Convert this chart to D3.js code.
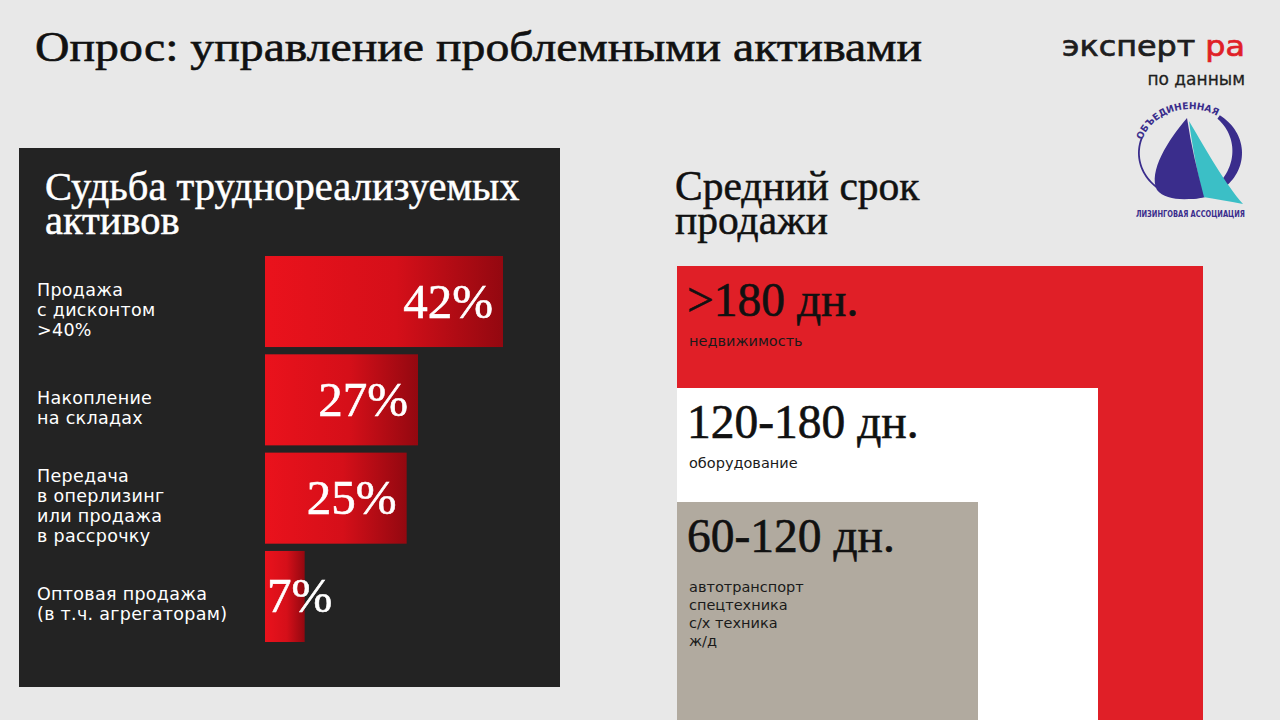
<!DOCTYPE html>
<html>
<head>
<meta charset="utf-8">
<script src="https://cdn.jsdelivr.net/npm/d3@7"></script>
<style>
  html, body { margin: 0; padding: 0; background: #e8e8e8; }
  svg { display: block; }
  .serif { font-family: "Liberation Serif", "Times New Roman", serif; }
  .sans  { font-family: "DejaVu Sans", "Noto Sans", sans-serif; }
  .cond  { font-family: "DejaVu Sans Condensed", "DejaVu Sans", sans-serif; }
</style>
</head>
<body>
<svg id="chart" width="1280" height="720"></svg>
<script>
// # DATA
// # ------------------------------
var title_text    = "Опрос: управление проблемными активами";
var fate_title    = ["Судьба труднореализуемых", "активов"];
var fate_labels   = [
  ["Продажа", "с дисконтом", ">40%"],
  ["Накопление", "на складах"],
  ["Передача", "в оперлизинг", "или продажа", "в рассрочку"],
  ["Оптовая продажа", "(в т.ч. агрегаторам)"]
];
var fate_values   = [42, 27, 25, 7];

var term_title    = ["Средний срок", "продажи"];
var term_labels   = [">180 дн.", "120-180 дн.", "60-120 дн."];
var term_days     = [180, 120, 60];   // lower bound of each range
var term_notes    = [
  ["недвижимость"],
  ["оборудование"],
  ["автотранспорт", "спецтехника", "с/х техника", "ж/д"]
];

// # SETUP
// # ------------------------------
var svg = d3.select("#chart");
var red = "#e01f27";

svg.append("rect")
   .attr("width", 1280)
   .attr("height", 720)
   .attr("fill", "#e8e8e8");

var defs = svg.append("defs");

// ## title
// # ------------------------------
svg.append("text")
   .attr("class", "serif")
   .attr("x", 35)
   .attr("y", 61)
   .attr("textLength", 887)
   .attr("lengthAdjust", "spacingAndGlyphs")
   .style("font-size", "43px")
   .style("fill", "#111")
   .style("stroke", "#111")
   .style("stroke-width", 0.6)
   .text(title_text);

// ## multi line text helper
// # ------------------------------
var draw_lines = function(g, lines, x, y, line_height, cls, size, color, stroke, spacing) {
  var t = g.append("text")
     .attr("class", cls)
     .attr("x", x)
     .attr("y", y)
     .style("font-size", size + "px")
     .style("fill", color);
  if (stroke) {
    t.style("stroke", color).style("stroke-width", stroke);
  }
  if (spacing) {
    t.style("letter-spacing", spacing + "px");
  }
  t.selectAll("tspan")
     .data(lines)
     .enter()
     .append("tspan")
     .attr("x", x)
     .attr("dy", function(d, i) { return i == 0 ? 0 : line_height; })
     .text(function(d) { return d; });
  return t;
}

// # LEFT PANEL: fate of assets
// # ------------------------------
var left = svg.append("g").attr("class", "left_panel");

left.append("rect")
   .attr("x", 19)
   .attr("y", 148)
   .attr("width", 541)
   .attr("height", 539)
   .attr("fill", "#232323");

draw_lines(left, fate_title, 45, 200, 34, "serif", 40.5, "#fff", 0.5);

fate_values.forEach(function(v, i) {
  var grad = defs.append("linearGradient")
      .attr("id", "bar_grad" + i)
      .attr("x1", "0%").attr("y1", "0%")
      .attr("x2", "100%").attr("y2", "0%");
  grad.append("stop").attr("offset", "0%").attr("stop-color", "#ea121c");
  grad.append("stop").attr("offset", "55%").attr("stop-color", "#d50f19");
  grad.append("stop").attr("offset", "100%").attr("stop-color", "#930810");
});

var x = d3.scaleLinear()
    .domain([0, 42])
    .range([265, 503]);

var y = d3.scaleBand()
    .domain(d3.range(fate_values.length))
    .range([256, 642])
    .paddingInner(0.074);

var bars = left.selectAll(".bar")
    .data(fate_values)
    .enter()
    .append("g")
    .attr("class", "bar");

bars.append("rect")
    .attr("x", x(0))
    .attr("y", function(d, i) { return y(i); })
    .attr("width", function(d) { return x(d) - x(0); })
    .attr("height", y.bandwidth())
    .attr("fill", function(d, i) { return "url(#bar_grad" + i + ")"; });

bars.append("text")
    .attr("class", "serif")
    .attr("x", function(d) { return (x(d) - x(0)) > 100 ? x(d) - 10 : x(0) + 2; })
    .attr("y", function(d, i) { return y(i) + y.bandwidth() / 2 + 16; })
    .attr("text-anchor", function(d) { return (x(d) - x(0)) > 100 ? "end" : "start"; })
    .style("font-size", "49px")
    .style("fill", "#fff")
    .style("stroke", "#fff")
    .style("stroke-width", 0.6)
    .text(function(d) { return d + "%"; });

fate_labels.forEach(function(lines, i) {
  var cy = y(i) + y.bandwidth() / 2;
  var y0 = cy - (lines.length - 1) * 10 + 14;
  draw_lines(left, lines, 37, y0, 20, "sans", 17.5, "#fff", 0, 0.3);
});

// # RIGHT PANEL: average sale term
// # ------------------------------
var right = svg.append("g").attr("class", "right_panel");

draw_lines(right, term_title, 675, 200, 34, "serif", 41.5, "#111", 0.5);

var w = d3.scaleLinear()
    .domain([60, 120, 180])
    .range([301, 421, 526]);

var h = d3.scaleLinear()
    .domain([60, 120, 180])
    .range([218, 332, 454]);

var term_color = d3.scaleOrdinal()
    .domain(term_labels)
    .range([red, "#ffffff", "#b1aa9f"]);

var base_x = 677,
    base_y = 720;

var terms = right.selectAll(".term")
    .data(term_days)
    .enter()
    .append("g")
    .attr("class", "term");

terms.append("rect")
    .attr("x", base_x)
    .attr("y", function(d) { return base_y - h(d); })
    .attr("width", function(d) { return w(d); })
    .attr("height", function(d) { return h(d); })
    .attr("fill", function(d, i) { return term_color(term_labels[i]); });

terms.append("text")
    .attr("class", "serif")
    .attr("x", base_x + 10)
    .attr("y", function(d) { return base_y - h(d) + 50; })
    .style("font-size", "47.5px")
    .style("fill", "#111")
    .style("stroke", "#111")
    .style("stroke-width", 0.6)
    .text(function(d, i) { return term_labels[i]; });

term_days.forEach(function(d, i) {
  var lines = term_notes[i];
  var y0 = base_y - h(d) + (lines.length > 1 ? 90 : 80);
  draw_lines(right, lines, base_x + 12, y0, 18, "sans", 14.5, "#1a1a1a");
});

// # LOGOS
// # ------------------------------
var logo = svg.append("g").attr("class", "logo");

var brand = logo.append("text")
    .attr("class", "sans")
    .attr("x", 1062)
    .attr("y", 56)
    .attr("textLength", 183)
    .attr("lengthAdjust", "spacingAndGlyphs")
    .style("font-size", "29px")
    .style("stroke-width", 0.7);
brand.append("tspan").style("fill", "#1e1e1e").style("stroke", "#1e1e1e").text("эксперт ");
brand.append("tspan").style("fill", red).style("stroke", red).text("ра");

logo.append("text")
    .attr("class", "sans")
    .attr("x", 1245)
    .attr("y", 85)
    .attr("text-anchor", "end")
    .style("font-size", "17px")
    .style("fill", "#1e1e1e")
    .style("stroke", "#1e1e1e")
    .style("stroke-width", 0.3)
    .text("по данным");

// ## leasing association mark
// # ------------------------------
var indigo = "#3a2d8c",
    teal   = "#3bbfc6";
var cx = 1190, cy = 153, rx = 52, ry = 46;

var ring_outer = [], ring_inner = [];
d3.range(-55, 201, 3).forEach(function(deg) {
  var a = deg * Math.PI / 180;
  var t = 1.8 + 8 * Math.pow(Math.max(0, Math.cos(a - 0.15)), 1.5);
  ring_outer.push([cx + rx * Math.cos(a), cy + ry * Math.sin(a)]);
  ring_inner.push([cx + (rx - t) * Math.cos(a), cy + (ry - t) * Math.sin(a)]);
});

logo.append("path")
    .attr("d", d3.line()(ring_outer.concat(ring_inner.reverse())) + "Z")
    .attr("fill", indigo);

logo.append("path")
    .attr("d", "M1189,121 C1206,150 1226,185 1243,204 C1229,201 1215,199 1203,197 C1197,170 1192,145 1189,121 Z")
    .attr("fill", teal);

logo.append("path")
    .attr("d", "M1187,118 C1168,140 1148,172 1157,190 C1165,200 1185,201 1204,197 C1197,170 1191,145 1187,118 Z")
    .attr("fill", indigo);

var arc_pts = d3.range(-163, -54, 2).map(function(deg) {
  var a = deg * Math.PI / 180;
  return [cx + (rx - 2) * Math.cos(a), cy + (ry - 2) * Math.sin(a)];
});
var arc_path = defs.append("path")
    .attr("id", "logo_arc")
    .attr("d", d3.line().curve(d3.curveBasis)(arc_pts));

logo.append("text")
    .attr("class", "sans")
    .attr("textLength", arc_path.node().getTotalLength() - 2)
    .attr("lengthAdjust", "spacingAndGlyphs")
    .style("font-size", "9.5px")
    .style("font-weight", "bold")
    .style("fill", indigo)
    .append("textPath")
    .attr("href", "#logo_arc")
    .text("ОБЪЕДИНЕННАЯ");

logo.append("text")
    .attr("class", "cond")
    .attr("x", 1136)
    .attr("y", 217)
    .attr("textLength", 109)
    .attr("lengthAdjust", "spacingAndGlyphs")
    .style("font-size", "8.5px")
    .style("font-weight", "bold")
    .style("fill", indigo)
    .text("ЛИЗИНГОВАЯ АССОЦИАЦИЯ");
</script>
</body>
</html>
